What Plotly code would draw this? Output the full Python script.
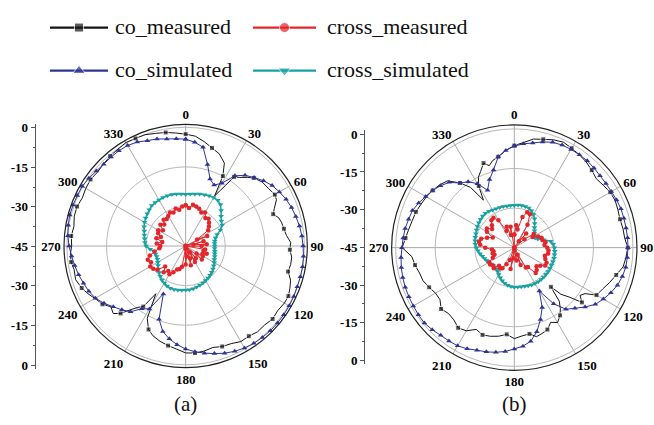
import plotly.graph_objects as go

# ---------------- data ----------------
ANG5 = list(range(0, 360, 5))

# plot (a)
a_co_sim = [-4.5, -5.5, -7, -13, -18, -19.5, -17.5, -12.5, -10, -8.3, -6.5, -5,
            -4, -3, -2.3, -1.8, -1.2, -0.8, -0.5, -0.2, 0, 0, 0, 0.2,
            0.3, 0.4, 0.4, 0.4, 0.2, 0, -0.4, -1, -1.8, -2.8, -3.8, -4.8,
            -6, -7.5, -9.3, -11.5, -15.5, -25, -17.5, -16, -12.5, -10.8, -9.2, -7.2,
            -5.5, -4.5, -3.8, -3, -2.3, -1.6, -0.8, -0.2, 0.2, 0.5, 0.4, 0.3,
            0.3, -0.2, -0.8, -1.1, -1, -0.9, -1, -1.5, -2.5, -3, -3.8, -4.2]
a_cross_sim = [-25.4, -25.2, -25, -24.6, -24.3, -24, -23.8, -23.8, -24.5, -26, -27.5, -28.5,
               -29, -30.5, -32.3, -33.3, -33.8, -34, -34, -34, -33.8, -33.6, -33.3, -33,
               -32.5, -32, -31.5, -31, -30.6, -30.2, -29.9, -29.5, -29.2, -28.9, -28.6, -28.4,
               -28.3, -28.2, -28.1, -28, -28, -28.3, -28.8, -29.3, -30, -30.8, -31.5, -32.2,
               -32.8, -33.2, -33.3, -33.2, -33, -31.5, -30, -29.5, -29.2, -28.8, -28.3, -27.6,
               -27, -26.5, -26, -25.5, -25, -24.9, -24.8, -24.7, -24.7, -24.8, -25, -25.2]
a_cross_meas = [-29.5, -30.5, -29.1, -29.5, -30, -31, -30.3, -32, -31.5, -32.5, -33.5, -34.6,
                -40, -36, -45, -38, -42, -37, -39, -45, -37.5, -38, -36.5, -38,
                -37.5, -40, -37, -45, -39, -42, -38, -45, -40, -37.5, -45, -41,
                -38, -44, -37, -36, -35.5, -34, -32.7, -33.5, -32, -34, -31, -30,
                -29.5, -30.5, -29.7, -31, -33, -35, -35.4, -34, -36, -33.5, -35, -33.5,
                -33, -34.5, -32.5, -33.5, -32, -32.5, -31.8, -31, -31.5, -30.3, -31, -30]
a_co_meas_theta = [0, 5, 10, 15, 20, 25, 28, 30, 32, 35, 38, 42, 45, 50, 55, 60, 63, 67, 70, 73,
                   76, 80, 84, 88, 92, 96, 100, 104, 108, 112, 116, 120, 125, 130, 135, 140, 145,
                   150, 155, 160, 165, 170, 175, 180, 185, 190, 195, 200, 204, 208, 212, 215, 218,
                   221, 224, 227, 231, 235, 239, 244, 248, 253, 258, 262, 266, 270, 275, 280, 285,
                   290, 295, 300, 305, 310, 315, 320, 325, 330, 335, 340, 345, 350, 355]
a_co_meas = [-2.6, -3.2, -4.8, -6.5, -7.8, -10.3, -15, -23, -20, -13, -12, -10, -8.5, -7.2, -6.8,
             -6, -6.4, -8.5, -9.7, -8.2, -7.6, -7.2, -6.6, -5.2, -5.5, -4.6, -4.6, -5, -3.2, -2.4,
             -1.7, -1.8, -2.4, -2, -2.7, -2.6, -3.3, -3.2, -4.2, -4.5, -5.2, -4.6, -4.3, -4.5, -5.8,
             -6.7, -7.6, -8.8, -10.4, -14, -23.7, -17, -15.5, -13, -9.5, -7.5, -8.5, -6.5, -5.6,
             -3.8, -2.5, -1.4, -1.8, -1.2, -1.2, -1.8, -1.5, -2, -1.3, -1.2, -1.8, -1.3, -1.0,
             -1.4, -1, -0.5, -0.2, 0.3, 0, -0.1, -0.8, -1.3, -2]

# plot (b)
b_co_sim = [-6.5, -5.5, -4.7, -3.5, -2.5, -2.1, -2, -2, -2, -2.3, -2.6, -2.6,
            -2.5, -2.2, -2, -2, -2, -1.9, -1.9, -2, -2.1, -2.6, -3.4, -4.6,
            -6, -7.5, -10, -12.5, -14.5, -19, -26, -20, -16, -12, -9, -7.5,
            -6.6, -5.5, -4.7, -4.1, -3.6, -2.7, -2, -1.8, -1.6, -1, -0.5, -0.6,
            -0.8, -0.9, -1, -1.2, -1.5, -1.9, -2.4, -2.7, -3, -3.5, -3.9, -5,
            -6.2, -7.2, -8.5, -10, -13, -14.5, -17, -21, -17.5, -14.5, -10, -8]
b_cross_sim = [-28.9, -28.8, -28.8, -28.9, -29, -29.6, -30.5, -31.6, -33, -34.2, -35, -35.7,
               -36.2, -36.3, -35.5, -33.5, -31, -30.2, -29.8, -29.6, -29.5, -29.4, -29.4, -29.4,
               -29.4, -29.3, -29.3, -29.2, -29.2, -29.2, -29.3, -29.4, -29.6, -29.8, -29.9, -30,
               -30, -30.2, -30.5, -31, -31.6, -32.4, -33.2, -34, -34.4, -34.6, -34.5, -34.2,
               -33.8, -33.4, -33, -32.5, -31.8, -31.2, -30.6, -30.2, -29.9, -29.7, -29.5, -29.2,
               -28.9, -28.6, -28.3, -28.1, -28, -28.2, -28.5, -28.7, -28.8, -28.9, -29, -29]
b_cross_meas = [-40, -36.5, -38, -33, -30.7, -31, -35, -42, -38, -45, -40, -36,
                -37, -35, -34, -34, -33, -33.5, -32.5, -32, -32, -33, -32.5, -31.5,
                -31.5, -33, -34, -33, -32.4, -36, -36.3, -42, -38, -45, -40, -44,
                -45, -41, -36.8, -45, -40, -38, -36, -35.5, -36, -34, -34.5, -33.8,
                -34, -36, -37, -36.5, -37, -36.5, -34, -32, -31.4, -32, -34, -36,
                -33, -32.3, -34, -33, -31.5, -31.2, -33, -38, -36.6, -40, -37, -45]
b_co_meas_theta = [0, 5, 10, 15, 20, 25, 30, 35, 40, 45, 50, 55, 60, 65, 70, 75, 80, 85, 90, 95,
                   100, 105, 110, 115, 120, 123, 126, 129, 132, 135, 137, 140, 143, 146, 150, 154,
                   158, 162, 166, 170, 175, 180, 185, 190, 195, 200, 205, 210, 215, 220, 225, 230,
                   235, 240, 245, 250, 255, 260, 265, 270, 275, 280, 285, 290, 295, 300, 305, 310,
                   315, 320, 324, 327, 330, 333, 336, 340, 343, 346, 350, 355]
b_co_meas = [-6.3, -5, -3.2, -2.5, -1.5, -0.9, -1.5, -2, -2.6, -3.5, -4.4, -3.8, -3, -2.8, -3.2,
             -3.5, -3.2, -3, -2, -2.5, -3.1, -5, -6.5, -8, -9, -13, -14.2, -12, -17, -20, -24.7,
             -18.5, -16, -14, -12.2, -13.5, -11.5, -10.8, -10.2, -11.8, -11.4, -10.5, -12, -10.9,
             -10.2, -9.8, -10.8, -8.6, -7.9, -9.3, -9.7, -8.8, -10.6, -10.5, -9.4, -8.2, -7.8,
             -6.8, -6, -2.5, -3.6, -4.4, -5, -5.3, -6, -6.5, -7.2, -8, -9.2, -13, -16.8, -23.5,
             -18, -15, -13.5, -10.9, -12.5, -11, -10, -8]

tick_angles = list(range(0, 360, 30))
tick_labels = [str(a) for a in tick_angles]
left_tickvals = [-45, -30, -15, 0, 15, 30, 45]
left_ticktext = ['0', '-15', '-30', '-45', '-30', '-15', '0']
legend_names = ['co_measured', 'cross_measured', 'co_simulated', 'cross_simulated']
panel_labels = ['(a)', '(b)']

# ---------------- style ----------------
C_BLACK = '#151515'
C_RED = '#e3262b'
C_BLUE = '#2e3494'
C_TEAL = '#17a2a2'
SERIF = '"Liberation Serif", "Times New Roman", Times, serif'


def closed(th, r):
    return list(th) + [th[0] + 360], list(r) + [r[0]]


def every(n, k, size):
    return [size if i % k == 0 else 0 for i in range(n + 1)]


fig = go.Figure()


def add_panel(sub, co_meas_t, co_meas, co_sim, cross_sim, cross_meas):
    t, r = closed(co_meas_t, co_meas)
    fig.add_trace(go.Scatterpolar(theta=t, r=r, mode='lines+markers', subplot=sub,
                                  line=dict(color=C_BLACK, width=1),
                                  marker=dict(symbol='square', color=C_BLACK,
                                              size=every(len(co_meas), 3, 5)),
                                  showlegend=False, name=legend_names[0]))
    t, r = closed(ANG5, co_sim)
    fig.add_trace(go.Scatterpolar(theta=t, r=r, mode='lines+markers', subplot=sub,
                                  line=dict(color=C_BLUE, width=1),
                                  marker=dict(symbol='triangle-up', color=C_BLUE, size=5),
                                  showlegend=False, name=legend_names[2]))
    t, r = closed(ANG5, cross_sim)
    fig.add_trace(go.Scatterpolar(theta=t, r=r, mode='lines+markers', subplot=sub,
                                  line=dict(color=C_TEAL, width=1.5),
                                  marker=dict(symbol='triangle-down', color=C_TEAL, size=5),
                                  showlegend=False, name=legend_names[3]))
    t, r = closed(ANG5, cross_meas)
    fig.add_trace(go.Scatterpolar(theta=t, r=r, mode='lines+markers', subplot=sub,
                                  line=dict(color=C_RED, width=1),
                                  marker=dict(symbol='circle', color=C_RED, size=4.5),
                                  showlegend=False, name=legend_names[1]))


add_panel('polar', a_co_meas_theta, a_co_meas, a_co_sim, a_cross_sim, a_cross_meas)
add_panel('polar2', b_co_meas_theta, b_co_meas, b_co_sim, b_cross_sim, b_cross_meas)


def polar_layout(domx, domy, rmax):
    return dict(
        domain=dict(x=domx, y=domy), bgcolor='white',
        angularaxis=dict(rotation=90, direction='clockwise', tickmode='array',
                         tickvals=tick_angles, ticktext=tick_labels,
                         tickfont=dict(family=SERIF, size=13, color='black', weight='bold'),
                         showgrid=True, gridcolor='#a9a9a9', gridwidth=1,
                         showline=True, linecolor='#222222', linewidth=1.2, ticks=''),
        radialaxis=dict(range=[-45, rmax], tickmode='array', tickvals=[-30, -15, 0],
                        showticklabels=False, ticks='', showline=False,
                        gridcolor='#b8b8b8', gridwidth=1))


# ---------------- legend (drawn manually) ----------------
leg_items = [
    (legend_names[0], C_BLACK, 'square', 9, 50, 108, 24, 113),
    (legend_names[1], C_RED, 'circle', 10, 253, 316, 24, 325),
    (legend_names[2], C_BLUE, 'triangle-up', 11, 50, 108, 68, 113),
    (legend_names[3], C_TEAL, 'triangle-down', 11, 253, 316, 68, 325),
]
annotations = []
for name, col, sym, ms, x1, x2, y, tx in leg_items:
    fig.add_trace(go.Scatter(x=[x1, (x1 + x2) / 2, x2], y=[y, y, y], mode='lines+markers',
                             xaxis='x3', yaxis='y3', showlegend=False, hoverinfo='skip',
                             line=dict(color=col, width=2.2),
                             marker=dict(symbol=sym, color=col, size=[0, ms, 0])))
    annotations.append(dict(x=tx, y=y - 1, xref='x3', yref='y3', text=name, showarrow=False,
                            xanchor='left', yanchor='middle',
                            font=dict(family=SERIF, size=22, color='#111111')))

# dummy traces so the free-standing dB axes are drawn
fig.add_trace(go.Scatter(x=[None], y=[None], xaxis='x4', yaxis='y4', showlegend=False))
fig.add_trace(go.Scatter(x=[None], y=[None], xaxis='x5', yaxis='y5', showlegend=False))

for lab, xc in zip(panel_labels, [185, 514]):
    annotations.append(dict(x=xc / 654, y=(425 - 408) / 425, xref='paper', yref='paper',
                            text=lab, showarrow=False, xanchor='center', yanchor='middle',
                            font=dict(family=SERIF, size=21, color='#111111')))


def left_axis(domy):
    return dict(domain=domy, range=[-46.5, 46.5], tickmode='array', tickvals=left_tickvals,
                ticktext=left_ticktext, showline=True, linecolor='#555555', linewidth=1,
                ticks='outside', ticklen=4, tickcolor='#555555', showgrid=False, zeroline=False,
                tickfont=dict(family=SERIF, size=13, color='black', weight='bold'),
                minor=dict(tickmode='array', tickvals=[-37.5, -22.5, -7.5, 7.5, 22.5, 37.5],
                           ticks='outside', ticklen=2, tickcolor='#555555', showgrid=False),
                fixedrange=True)


fig.update_layout(
    width=654, height=425, margin=dict(l=0, r=0, t=0, b=0),
    paper_bgcolor='white', plot_bgcolor='rgba(0,0,0,0)',
    font=dict(family=SERIF),
    polar=polar_layout([0.0943, 0.4735], [0.1278, 0.7113], 1.1),
    polar2=polar_layout([0.5953, 0.9775], [0.1216, 0.7099], 1.5),
    xaxis3=dict(domain=[0, 1], range=[0, 654], visible=False, fixedrange=True),
    yaxis3=dict(domain=[0.7765, 1], range=[95, 0], visible=False, fixedrange=True, anchor='x3'),
    xaxis4=dict(domain=[0.0546, 0.08], visible=False, anchor='y4', range=[0, 1]),
    yaxis4=dict(anchor='x4', **left_axis([0.1247, 0.7129])),
    xaxis5=dict(domain=[0.5581, 0.58], visible=False, anchor='y5', range=[0, 1]),
    yaxis5=dict(anchor='x5', **left_axis([0.1362, 0.6967])),
    annotations=annotations,
    showlegend=False,
)

fig.write_html('out.html', config={'displayModeBar': False},
               post_script="document.body.style.margin='0';")
